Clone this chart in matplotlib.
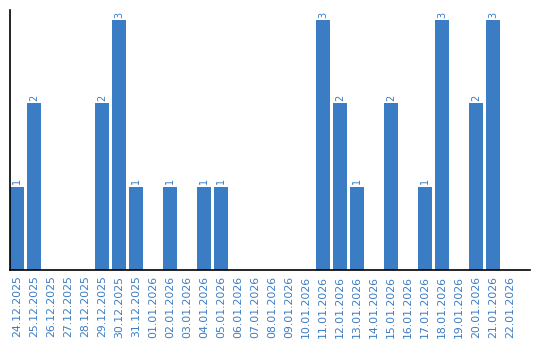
import matplotlib.pyplot as plt
import numpy as np

dates = ['24.12.2025', '25.12.2025', '26.12.2025', '27.12.2025', '28.12.2025',
         '29.12.2025', '30.12.2025', '31.12.2025', '01.01.2026', '02.01.2026',
         '03.01.2026', '04.01.2026', '05.01.2026', '06.01.2026', '07.01.2026',
         '08.01.2026', '09.01.2026', '10.01.2026', '11.01.2026', '12.01.2026',
         '13.01.2026', '14.01.2026', '15.01.2026', '16.01.2026', '17.01.2026',
         '18.01.2026', '19.01.2026', '20.01.2026', '21.01.2026', '22.01.2026']
counts = [1, 2, 0, 0, 0, 2, 3, 1, 0, 1, 0, 1, 1, 0, 0,
          0, 0, 0, 3, 2, 1, 0, 2, 0, 1, 3, 0, 2, 3, 0]

blue = '#3b7dc4'
bar_w = 14 / 17

fig = plt.figure(figsize=(5.4, 3.4), dpi=100)
ax = fig.add_axes([10 / 540, 70 / 340, 520 / 540, 260 / 340])

x = np.arange(len(dates))
ax.bar(x, counts, width=bar_w, align='edge', color=blue)

# value labels above non-empty bars
for xi, c in zip(x, counts):
    if c > 0:
        ax.text(xi + bar_w / 2, c + 0.03, str(c), rotation=90, ha='center',
                va='bottom', fontsize=7, color=blue)

ax.set_xlim(0, 520 / 17)
ax.set_ylim(0, 260 / 250 * 3)
ax.set_xticks(x + bar_w / 2)
ax.set_xticklabels(dates, rotation=90, fontsize=7.8, color=blue)
ax.tick_params(axis='x', length=0, pad=4)
ax.set_yticks([])
for side in ['top', 'right']:
    ax.spines[side].set_visible(False)
ax.spines['left'].set_linewidth(1.2)
ax.spines['bottom'].set_linewidth(1.2)

fig.savefig('out.png', dpi=100)
